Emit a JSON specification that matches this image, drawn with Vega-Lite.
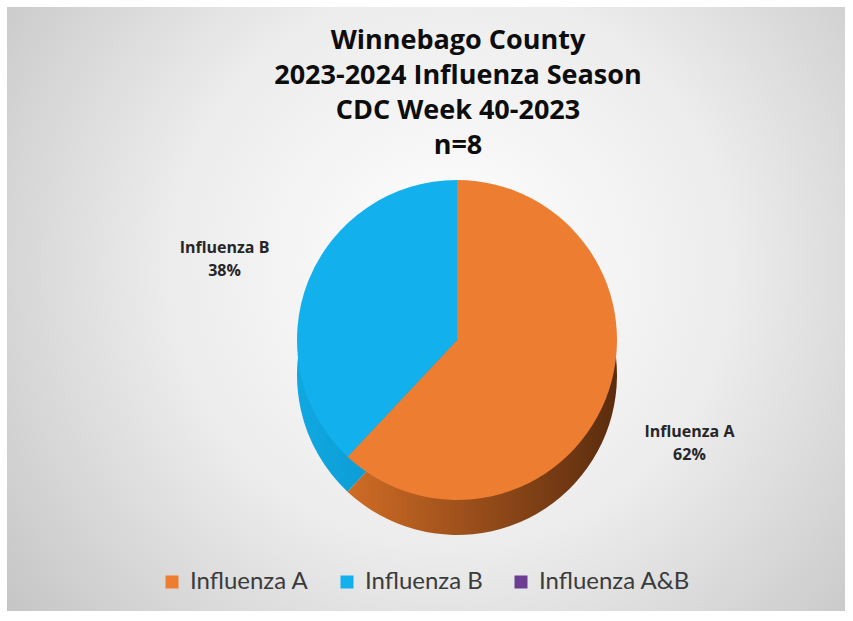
{
  "$schema": "https://vega.github.io/schema/vega-lite/v6.json",
  "width": 853,
  "height": 621,
  "autosize": {"type": "fit", "contains": "padding"},
  "padding": {"left": 7, "right": 8, "top": 7, "bottom": 10},
  "background": "#ffffff",
  "view": {
    "stroke": null,
    "fill": {
      "gradient": "radial",
      "x1": 0.53, "y1": 0.45, "r1": 0,
      "x2": 0.53, "y2": 0.45, "r2": 0.75,
      "stops": [
        {"offset": 0, "color": "#ffffff"},
        {"offset": 0.45, "color": "#ececec"},
        {"offset": 1, "color": "#bcbcbc"}
      ]
    }
  },
  "title": {
    "text": ["Winnebago County", "2023-2024 Influenza Season", "CDC Week 40-2023", "n=8"],
    "font": "Open Sans",
    "fontSize": 27,
    "fontWeight": "bold",
    "color": "#0d0d0d",
    "lineHeight": 35,
    "anchor": "middle",
    "offset": -153,
    "dx": 32
  },
  "data": {
    "values": [
      {"type": "Influenza A", "pct": 62},
      {"type": "Influenza B", "pct": 38},
      {"type": "Influenza A&B", "pct": 0}
    ]
  },
  "encoding": {
    "theta": {"field": "pct", "type": "quantitative", "stack": true},
    "detail": {"field": "type", "type": "nominal"}
  },
  "layer": [
    {
      "mark": {"type": "arc", "outerRadius": 160, "xOffset": 31, "yOffset": 66},
      "encoding": {
        "fill": {
          "condition": {
            "test": "datum.type === 'Influenza A'",
            "value": {
              "gradient": "linear", "x1": 0, "y1": 0.5, "x2": 1, "y2": 0.5,
              "stops": [{"offset": 0, "color": "#d06c25"}, {"offset": 1, "color": "#5a2c0e"}]
            }
          },
          "value": {
            "gradient": "linear", "x1": 0, "y1": 0.5, "x2": 1, "y2": 0.5,
            "stops": [{"offset": 0, "color": "#10a8e2"}, {"offset": 1, "color": "#0b8fc4"}]
          }
        }
      }
    },
    {
      "mark": {"type": "arc", "outerRadius": 160, "xOffset": 31, "yOffset": 31},
      "encoding": {
        "color": {
          "field": "type",
          "type": "nominal",
          "scale": {
            "domain": ["Influenza A", "Influenza B", "Influenza A&B"],
            "range": ["#ED7D31", "#12B0EC", "#6B3E94"]
          },
          "legend": {
            "title": null,
            "orient": "none",
            "direction": "horizontal",
            "legendX": 153,
            "legendY": 563,
            "symbolType": "square",
            "symbolSize": 169,
            "symbolStrokeWidth": 0,
            "labelFont": "Lato",
            "labelFontSize": 24,
            "labelColor": "#3b3b3b",
            "labelOffset": 6,
            "columnPadding": 26,
            "padding": 0
          }
        }
      }
    },
    {
      "transform": [
        {"filter": "datum.pct > 0"},
        {"calculate": "datum.type + '\\n' + datum.pct + '%'", "as": "label"}
      ],
      "mark": {
        "type": "text",
        "radius": 250,
        "xOffset": 31,
        "yOffset": 31,
        "font": "Open Sans",
        "fontWeight": "bold",
        "fontSize": 16,
        "color": "#262626",
        "lineBreak": "\n",
        "lineHeight": 23,
        "align": "center",
        "baseline": "middle"
      },
      "encoding": {
        "text": {"field": "label", "type": "nominal"}
      }
    }
  ]
}
